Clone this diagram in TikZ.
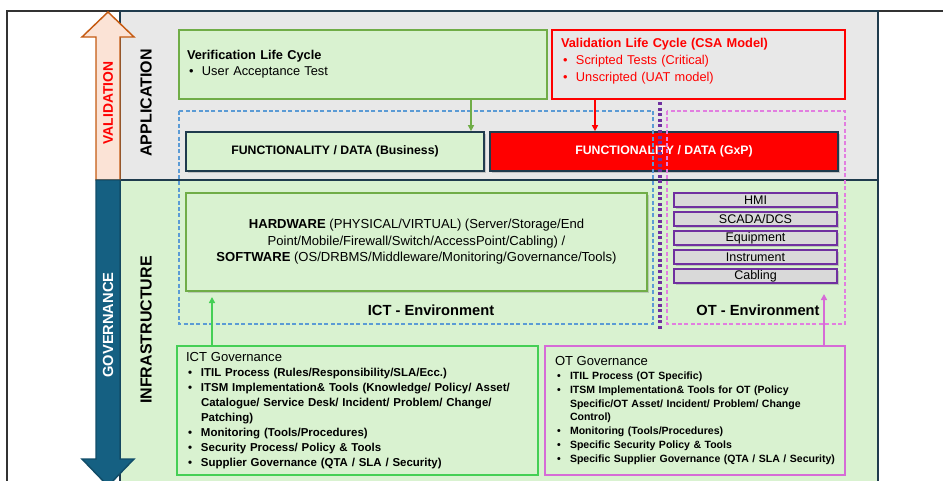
\documentclass[tikz,border=0pt]{standalone}
\usepackage{fontspec}
\setmainfont{Liberation Sans}
\usetikzlibrary{arrows.meta,shadows}

\definecolor{gris}{HTML}{E8E8E8}
\definecolor{grisclair}{HTML}{D9D9D9}
\definecolor{vertpale}{HTML}{D9F2D0}
\definecolor{marine}{HTML}{1F3B4D}
\definecolor{vertbord}{HTML}{70AD47}
\definecolor{vertvif}{HTML}{45CF55}
\definecolor{orchidee}{HTML}{D66BD6}
\definecolor{rose}{HTML}{E27EE0}
\definecolor{bleutir}{HTML}{5B9BD5}
\definecolor{violetot}{HTML}{7030A0}
\definecolor{peche}{HTML}{FBE3D6}
\definecolor{orangeval}{HTML}{C55A11}
\definecolor{petrole}{HTML}{156082}

\newcommand{\puce}{\makebox[11.25pt][l]{\hspace{1.5pt}\textbullet}}
\newcommand{\suite}{\hspace*{11.25pt}}

\tikzset{
  ombre/.style={drop shadow={shadow xshift=1.2pt, shadow yshift=-1.2pt, opacity=0.35}},
  titrevert/.style={rotate=90, font=\fontsize{12}{14}\selectfont\bfseries},
  verifbox/.style={draw=vertbord, fill=vertpale, line width=1.1pt,
    minimum width=276pt, minimum height=51.75pt, text width=264pt,
    inner xsep=6pt, inner ysep=0pt, align=left, font=\fontsize{9.6}{12}\selectfont},
  valbox/.style={draw=red, fill=gris, text=red, line width=1.1pt,
    minimum width=219.75pt, minimum height=51.75pt, text width=206.25pt,
    inner xsep=6.75pt, inner ysep=0pt, align=left, font=\fontsize{9.6}{12.4}\selectfont},
  funcbox/.style={draw=marine, line width=1.3pt, minimum height=29.25pt,
    inner sep=0pt, font=\fontsize{9.2}{11}\selectfont\bfseries, ombre},
  hwbox/.style={draw=vertbord, fill=vertpale, line width=1.8pt,
    minimum width=345.75pt, minimum height=73.5pt, align=center,
    font=\fontsize{9.8}{12.4}\selectfont, ombre},
  otbox/.style={draw=violetot, fill=grisclair, line width=1.5pt,
    minimum width=122.25pt, minimum height=10.5pt, inner sep=0pt,
    font=\fontsize{9.4}{10}\selectfont, ombre},
  envlabel/.style={font=\fontsize{11}{13}\selectfont\bfseries},
  gouvbox/.style={fill=vertpale, line width=2.2pt, minimum height=96.75pt,
    inner ysep=0pt, align=left},
  fleche/.style={-{Triangle[length=4.5pt, width=4.5pt]}, line width=1.1pt}
}

\begin{document}
\begin{tikzpicture}[x=0.75pt, y=-0.75pt]
  \useasboundingbox (0,0) rectangle (943,480);
  \clip (0,0) rectangle (943,480);

  % Cadre extérieur
  \draw[line width=0.8pt, black!80] (7,490) -- (7,11) -- (950,11);

  % Bandes Application / Infrastructure
  \fill[gris] (120,11) rectangle (878,180);
  \fill[vertpale] (120,180) rectangle (878,490);
  \draw[marine, line width=1.2pt] (120,180) -- (878,180);
  \draw[marine, line width=1.2pt] (120,490) -- (120,11) -- (878,11) -- (878,490);

  % Flèche Validation (vers le haut)
  \filldraw[fill=peche, draw=orangeval, line width=1.1pt]
    (96,180) -- (96,37) -- (82,37) -- (108,12) -- (134,37) -- (120,37) -- (120,180) -- cycle;
  \node[rotate=90, text=red, font=\fontsize{10.4}{12}\selectfont\bfseries] (validation) at (108,103) {VALIDATION};

  % Flèche Gouvernance (vers le bas)
  \filldraw[fill=petrole, draw=petrole!80!black, line width=1.1pt]
    (96,180) -- (96,459) -- (82,459) -- (108,486) -- (134,459) -- (120,459) -- (120,180) -- cycle;
  \node[rotate=90, text=white, font=\fontsize{11}{13}\selectfont\bfseries] (gouvernance) at (108,325) {GOVERNANCE};

  % Titres des bandes
  \node[titrevert] (appli) at (146,103) {APPLICATION};
  \node[titrevert] (infra) at (146,330) {INFRASTRUCTURE};

  % Cycles de vie
  \node[verifbox] (verif) at (363,64.5)
    {\textbf{Verification Life Cycle}\\ \puce User Acceptance Test};
  \node[valbox] (valid) at (698.5,64.5)
    {\textbf{Validation Life Cycle (CSA Model)}\\ \puce Scripted Tests (Critical)\\ \puce Unscripted (UAT model)\par\vspace{5pt}};

  % Fonctionnalités
  \node[funcbox, fill=vertpale, minimum width=223.5pt] (metier) at (335,151.5) {FUNCTIONALITY / DATA (Business)};
  \node[funcbox, fill=red, text=white, minimum width=261pt] (gxp) at (664,151.5) {FUNCTIONALITY / DATA (GxP)};

  % Matériel et logiciel
  \node[hwbox] (hw) at (416.5,242)
    {\textbf{HARDWARE} (PHYSICAL/VIRTUAL) (Server/Storage/End\\
     Point/Mobile/Firewall/Switch/AccessPoint/Cabling) /\\
     \textbf{SOFTWARE} (OS/DRBMS/Middleware/Monitoring/Governance/Tools)};
  \node[envlabel] (ictenv) at (431,310) {ICT - Environment};

  % Couches OT
  \foreach \nom [count=\i] in {HMI, SCADA/DCS, Equipment, Instrument, Cabling} {
    \node[otbox] (ot\i) at (755.5,181+19*\i) {\nom};
  }
  \node[envlabel] (otenv) at (758,310) {OT - Environment};

  % Environnements (pointillés)
  \draw[bleutir, line width=1pt, dash pattern=on 3pt off 1.8pt] (179,111) rectangle (653,324);
  \draw[rose, line width=1pt, dash pattern=on 3pt off 1.8pt] (667,111) rectangle (845,324);
  \draw[violetot, line width=2.8pt, dash pattern=on 2.2pt off 2pt] (660,102) -- (660,330);

  % Gouvernance ICT / OT
  \node[gouvbox, draw=vertvif, minimum width=270.75pt, text width=257.25pt, inner xsep=6.75pt,
        font=\fontsize{8.6}{11.25}\selectfont\bfseries] (ictgov) at (357.5,410.5)
    {{\mdseries\fontsize{9.8}{12}\selectfont ICT Governance}\\
     \puce ITIL Process (Rules/Responsibility/SLA/Ecc.)\\
     \puce ITSM Implementation\& Tools (Knowledge/ Policy/ Asset/\\
     \suite Catalogue/ Service Desk/ Incident/ Problem/ Change/\\
     \suite Patching)\\
     \puce Monitoring (Tools/Procedures)\\
     \puce Security Process/ Policy \& Tools\\
     \puce Supplier Governance (QTA / SLA / Security)};
  \node[gouvbox, draw=orchidee, minimum width=225pt, text width=210pt, inner xsep=7.5pt,
        font=\fontsize{7.9}{10.3}\selectfont\bfseries] (otgov) at (695,410.5)
    {{\mdseries\fontsize{9.8}{12}\selectfont OT Governance}\\
     \puce ITIL Process (OT Specific)\\
     \puce ITSM Implementation\& Tools for OT (Policy\\
     \suite Specific/OT Asset/ Incident/ Problem/ Change\\
     \suite Control)\\
     \puce Monitoring (Tools/Procedures)\\
     \puce Specific Security Policy \& Tools\\
     \puce Specific Supplier Governance (QTA / SLA / Security)};

  % Flèches
  \coordinate (xv) at (471,0);
  \coordinate (xr) at (595,0);
  \coordinate (bg) at (212,297);
  \coordinate (bo) at (824,294);
  \draw[fleche, vertbord] (verif.south -| xv) -- (metier.north -| xv);
  \draw[fleche, red] (valid.south -| xr) -- (gxp.north -| xr);
  \draw[fleche, vertvif, line width=1.6pt] (ictgov.north -| bg) -- (bg);
  \draw[fleche, orchidee, line width=1.6pt] (otgov.north -| bo) -- (bo);
\end{tikzpicture}
\end{document}
